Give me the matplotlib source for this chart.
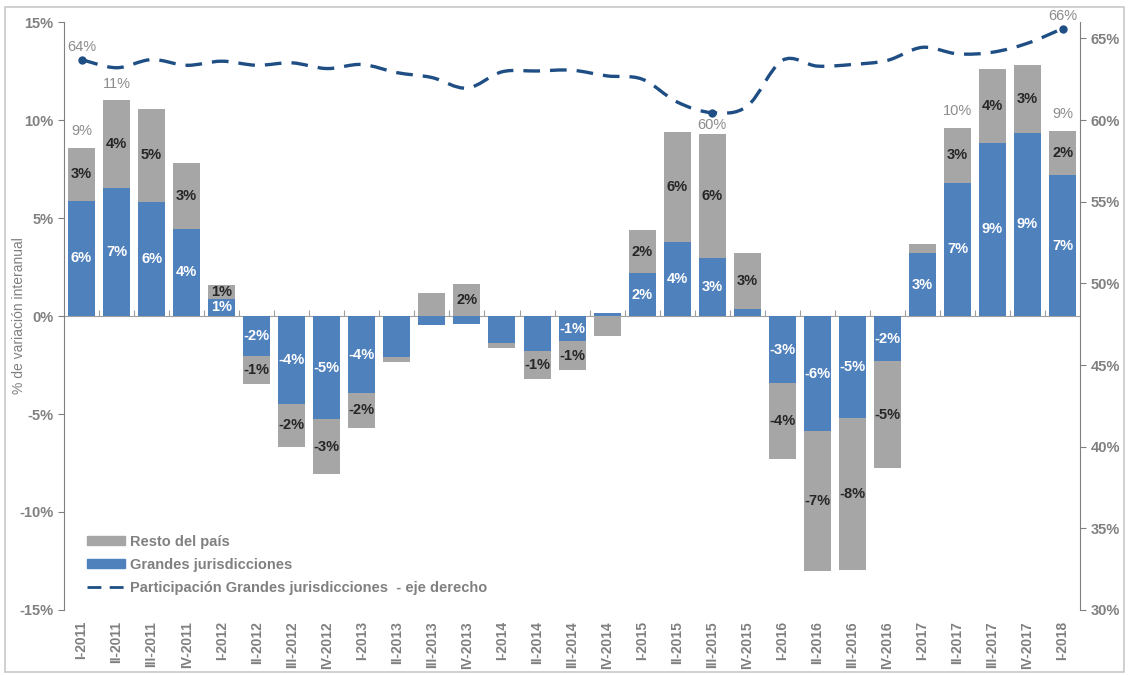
import numpy as np
import matplotlib.pyplot as plt
from matplotlib.path import Path
from matplotlib.patches import PathPatch, Patch, Rectangle
from matplotlib.lines import Line2D
from matplotlib.ticker import FuncFormatter, MultipleLocator, NullFormatter

plt.rcParams["font.family"] = ["Liberation Sans", "DejaVu Sans"]

quarters = [
    "I-2011", "II-2011", "III-2011", "IV-2011",
    "I-2012", "II-2012", "III-2012", "IV-2012",
    "I-2013", "II-2013", "III-2013", "IV-2013",
    "I-2014", "II-2014", "III-2014", "IV-2014",
    "I-2015", "II-2015", "III-2015", "IV-2015",
    "I-2016", "II-2016", "III-2016", "IV-2016",
    "I-2017", "II-2017", "III-2017", "IV-2017",
    "I-2018",
]
# % variación interanual
grandes = [5.87, 6.53, 5.82, 4.44, 0.87, -2.03, -4.5, -5.27, -3.93, -2.1,
           -0.46, -0.41, -1.4, -1.79, -1.28, 0.14, 2.19, 3.78, 2.96, 0.36,
           -3.42, -5.87, -5.2, -2.3, 3.21, 6.79, 8.83, 9.34, 7.19]
resto = [2.70, 4.47, 4.74, 3.36, 0.71, -1.43, -2.17, -2.78, -1.77, -0.23,
         1.17, 1.63, -0.21, -1.43, -1.48, -1.0, 2.20, 5.61, 6.33, 2.85,
         -3.88, -7.13, -7.76, -5.46, 0.46, 2.80, 3.77, 3.45, 2.25]
# participación grandes jurisdicciones (eje derecho)
participacion = [63.7, 63.2, 63.7, 63.35, 63.6, 63.35, 63.5, 63.15, 63.4, 62.9,
                 62.6, 61.95, 62.95, 63.0, 63.05, 62.7, 62.5, 61.1, 60.45, 60.85,
                 63.65, 63.3, 63.4, 63.65, 64.45, 64.05, 64.15, 64.7, 65.6]

# which data labels appear in the original
show_grandes = [1, 1, 1, 1, 1, 1, 1, 1, 1, 0, 0, 0, 0, 0, 1, 0, 1, 1, 1, 0,
                1, 1, 1, 1, 1, 1, 1, 1, 1]
show_resto = [1, 1, 1, 1, 1, 1, 1, 1, 1, 0, 0, 1, 0, 1, 1, 0, 1, 1, 1, 1,
              1, 1, 1, 1, 0, 1, 1, 1, 1]
show_total = ["I-2011", "II-2011", "II-2017", "I-2018"]
show_share = ["I-2011", "III-2015", "I-2018"]

BLUE = "#4F81BD"
GRAY = "#A6A6A6"
LINE = "#1F4E84"
TXT = "#808080"

x = np.arange(len(quarters))
g = np.array(grandes)
r = np.array(resto)
p = np.array(participacion)
r_bottom = np.where(np.sign(r) == np.sign(g), g, 0.0)

fig = plt.figure(figsize=(11.29, 6.75), dpi=100)
fig.patches.append(Rectangle((0.004, 0.004), 0.992, 0.985, transform=fig.transFigure,
                             fill=False, edgecolor="#C8C8C8", lw=1.2))
ax = fig.add_axes([0.0567, 0.0963, 0.9, 0.8711])
ax2 = ax.twinx()

w = 0.77
ax.bar(x, g, width=w, color=BLUE, zorder=2)
ax.bar(x, r, width=w, bottom=r_bottom, color=GRAY, zorder=2)

lbl = dict(ha="center", va="center", fontsize=10.5, fontweight="bold", zorder=4)
for i in x:
    if show_grandes[i]:
        ax.text(i, g[i] / 2, f"{np.round(g[i]):.0f}%", color="white", **lbl)
    if show_resto[i]:
        ax.text(i, r_bottom[i] + r[i] / 2, f"{np.round(r[i]):.0f}%", color="#262626", **lbl)
    if quarters[i] in show_total:
        tot = g[i] + r[i]
        ax.annotate(f"{np.round(tot):.0f}%", (i, tot), xytext=(0, 12), textcoords="offset points",
                    ha="center", va="center", fontsize=10.5, color="#8C8C8C")

ax.set_xlim(-0.5, len(quarters) - 0.5)
ax.set_ylim(-15, 15)
ax.yaxis.set_major_locator(MultipleLocator(5))
ax.yaxis.set_major_formatter(FuncFormatter(lambda v, _: f"{v:.0f}%"))
ax.set_xticks(x)
ax.set_xticklabels(quarters, rotation=90)
ax.tick_params(axis="x", length=0, pad=8, labelsize=10, labelcolor=TXT)
ax.tick_params(axis="y", length=4, color=TXT, labelsize=10.5, labelcolor=TXT)
for t in ax.get_xticklabels() + ax.get_yticklabels():
    t.set_fontweight("bold")
ax.set_ylabel("% de variación interanual", color=TXT, fontsize=10)
ax.yaxis.set_label_coords(-0.037, 0.5)
for s in ["top", "right", "bottom"]:
    ax.spines[s].set_visible(False)
ax.spines["left"].set_color(TXT)

# zero line with category separators
zero_ax = ax.secondary_xaxis(0.5)
zero_ax.set_xticks(x[:-1] + 0.5)
zero_ax.xaxis.set_major_formatter(NullFormatter())
zero_ax.tick_params(length=4, color="#A0A0A0", direction="out")
for s in zero_ax.spines.values():
    s.set_color("#A0A0A0")

# smoothed dashed share line (Catmull-Rom -> Bezier)
pts = np.column_stack([x, p])
ext = np.vstack([pts[0], pts, pts[-1]])
verts = [tuple(pts[0])]
codes = [Path.MOVETO]
for k in range(len(pts) - 1):
    p0, p1, p2, p3 = ext[k], ext[k + 1], ext[k + 2], ext[k + 3]
    c1 = p1 + (p2 - p0) / 6
    c2 = p2 - (p3 - p1) / 6
    verts += [tuple(c1), tuple(c2), tuple(p2)]
    codes += [Path.CURVE4] * 3
ax2.add_patch(PathPatch(Path(verts, codes), fill=False, edgecolor=LINE, lw=2.4,
                        linestyle=(0, (5, 3)), zorder=3))
for i in x:
    if quarters[i] in show_share:
        ax2.plot(i, p[i], "o", color=LINE, ms=5, zorder=4)
        off = -9 if p[i] < 61 else 9
        ax2.annotate(f"{np.round(p[i]):.0f}%", (i, p[i]), xytext=(0, off), textcoords="offset points",
                     ha="center", va="center", fontsize=10.5, color="#8C8C8C")

ax2.set_ylim(30, 66)
ax2.yaxis.set_major_locator(MultipleLocator(5))
ax2.yaxis.set_major_formatter(FuncFormatter(lambda v, _: f"{v:.0f}%"))
ax2.tick_params(axis="y", length=4, color=TXT, labelsize=10.5, labelcolor=TXT)
for t in ax2.get_yticklabels():
    t.set_fontweight("bold")
for s in ["top", "left", "bottom"]:
    ax2.spines[s].set_visible(False)
ax2.spines["right"].set_color(TXT)

handles = [
    Patch(color=GRAY),
    Patch(color=BLUE),
    Line2D([0], [0], color=LINE, lw=2, linestyle=(0, (5, 3))),
]
labels = ["Resto del país", "Grandes jurisdicciones",
          "Participación Grandes jurisdicciones  - eje derecho"]
leg = ax.legend(handles, labels, loc="upper left", bbox_to_anchor=(0.01, 0.15),
                frameon=False, handlelength=2.6, handleheight=0.6, handletextpad=0.3,
                labelspacing=0.62, prop={"size": 10.5, "weight": "bold"})
for t in leg.get_texts():
    t.set_color(TXT)

fig.savefig("out.png", dpi=100)
